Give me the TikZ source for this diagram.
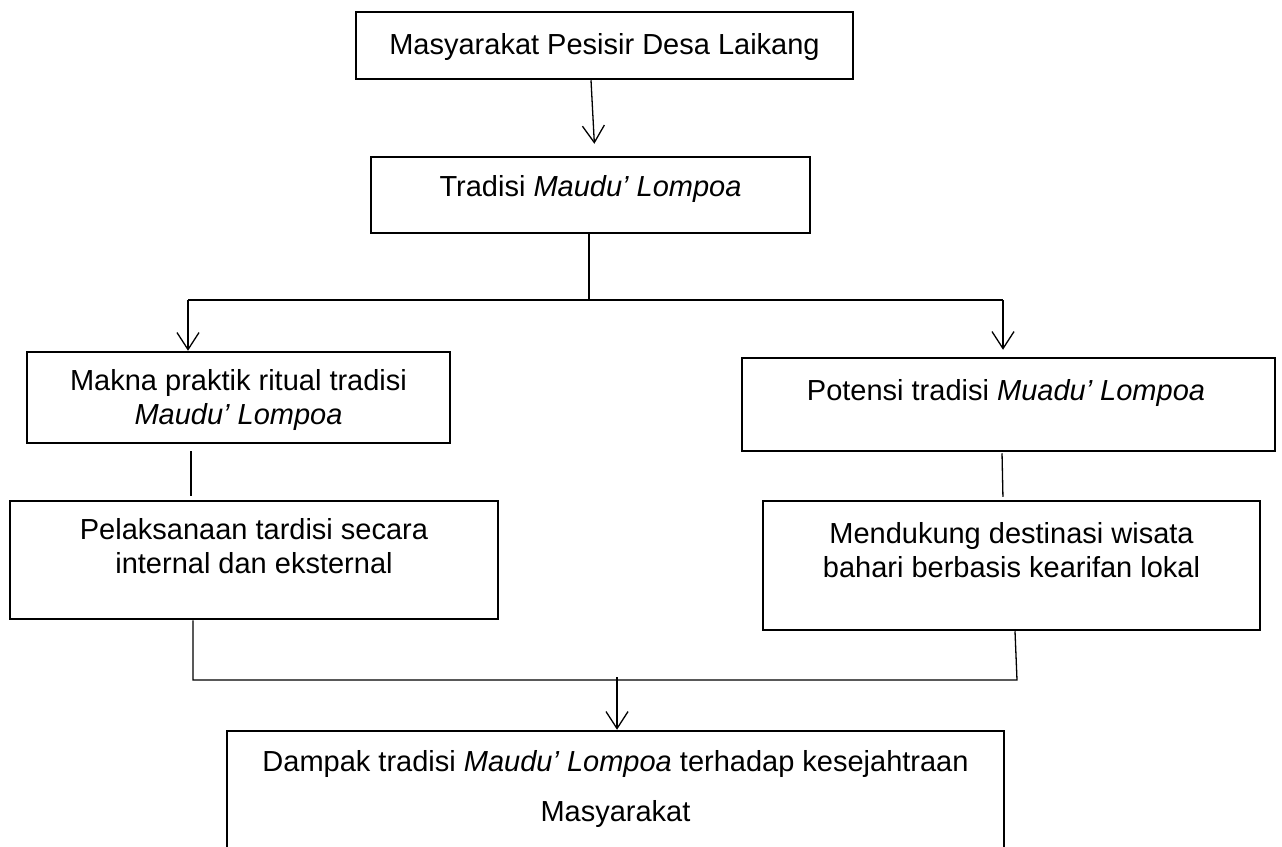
\documentclass[tikz,border=0pt]{standalone}
\usepackage{fontspec}
\setmainfont{Liberation Sans}
\usetikzlibrary{arrows.meta}
\tikzset{
  box/.style={draw, line width=2.5pt, inner sep=0pt},
  txt/.style={align=center, font=\fsz{29}{34}},
  link/.style={line width=1.3pt},
  arr/.style={link, -{Straight Barb[length=17pt,width=22pt,line width=1.3pt]}},
}
\newcommand{\fsz}[2]{\fontsize{#1}{#2}\selectfont}

\begin{document}
\begin{tikzpicture}[x=1pt,y=-1pt]
    \useasboundingbox (0,0) rectangle (1282,846);

    % Boxes
    \node[box, minimum width=497pt, minimum height=67pt] (masyarakat) at (604.5,45.5) {};
    \node[box, minimum width=439pt, minimum height=76pt] (tradisi) at (590.5,195) {};
    \node[box, minimum width=423pt, minimum height=91pt] (makna) at (238.5,397.5) {};
    \node[box, minimum width=533pt, minimum height=93pt] (potensi) at (1008.5,404.5) {};
    \node[box, minimum width=488pt, minimum height=118pt] (pelaksanaan) at (254,560) {};
    \node[box, minimum width=497pt, minimum height=129pt] (mendukung) at (1011.5,565.5) {};
    \node[box, minimum width=777pt, minimum height=140pt] (dampak) at (615.5,801) {};

    % Texts
    \node[txt] (masyarakatText) at (604.5,47.5) {Masyarakat Pesisir Desa Laikang};
    \node[txt] (tradisiText) at (590.5,189) {Tradisi \textit{Maudu’ Lompoa}};
    \node[txt] (maknaText) at (238.5,400) {Makna praktik ritual tradisi\\\textit{Maudu’ Lompoa}};
    \node[txt] (potensiText) at (1006,393) {Potensi tradisi \textit{Muadu’ Lompoa}};
    \node[txt] (pelaksanaanText) at (254,546) {Pelaksanaan tardisi secara\\internal dan eksternal};
    \node[txt] (mendukungText) at (1011.5,550) {Mendukung destinasi wisata\\bahari berbasis kearifan lokal};
    \node[txt, font=\fsz{29}{50}] (dampakText) at (615.5,788.5) {Dampak tradisi \textit{Maudu’ Lompoa} terhadap kesejahtraan\\Masyarakat};

    % Top arrow
    \draw[arr, shorten >=12pt] ([xshift=-13.5pt]masyarakat.south) -- ([xshift=4.5pt]tradisi.north);

    % Split
    \coordinate (split) at (589,300);
    \coordinate (splitL) at (188,300);
    \coordinate (splitR) at (1003,300);
    \draw[link] (tradisi.south -| split) -- (split);
    \draw[link] (splitL) -- (splitR);
    \draw[arr] (splitL) -- (splitL |- makna.north);
    \draw[arr, shorten >=7pt] (splitR) -- (splitR |- potensi.north);

    % Vertical links
    \draw[link, shorten <=7pt, shorten >=4pt] ([xshift=-47.5pt]makna.south) -- ([xshift=-63pt]pelaksanaan.north);
    \draw[link, shorten <=1pt, shorten >=3pt] ([xshift=-6.5pt]potensi.south) -- ([xshift=-8.5pt]mendukung.north);

    % Join
    \coordinate (joinL) at (193,680);
    \coordinate (joinR) at (1017,680);
    \coordinate (joinM) at (617,680);
    \draw[link] ([xshift=-61pt]pelaksanaan.south) -- (joinL) -- (joinR) -- ([xshift=3.5pt]mendukung.south);
    \draw[arr] ([yshift=3pt]joinM) -- ([xshift=1.5pt]dampak.north);
\end{tikzpicture}
\end{document}
